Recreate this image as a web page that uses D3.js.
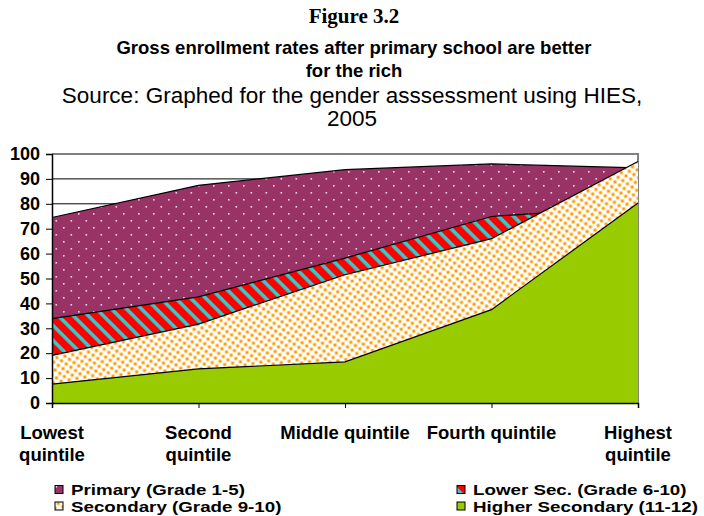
<!DOCTYPE html>
<html><head><meta charset="utf-8">
<script src="https://cdn.jsdelivr.net/npm/d3@7"></script>
<style>body{margin:0;background:#fff}svg{display:block}</style>
</head><body>
<script>
const categories = ["Lowest quintile","Second quintile","Middle quintile","Fourth quintile","Highest quintile"];
const categoryLines = [["Lowest","quintile"],["Second","quintile"],["Middle quintile"],["Fourth quintile"],["Highest","quintile"]];
const primary = [74.5, 87.4, 93.7, 96, 94.4];
const lowerSec = [33.9, 42.6, 58.2, 74.9, 79];
const secondary = [19.1, 31.7, 51.5, 66, 97];
const higherSec = [7.6, 13.7, 16.5, 37.5, 80.3];
const yTicks = [0,10,20,30,40,50,60,70,80,90,100];
const seriesNames = ["Primary (Grade 1-5)","Lower Sec. (Grade 6-10)","Secondary (Grade 9-10)","Higher Secondary (11-12)"];

const W=704,H=516;
const FONT="Liberation Sans, Arial, sans-serif";
const svg=d3.select("body").append("svg").attr("width",W).attr("height",H);
const defs=svg.append("defs");
let p=defs.append("pattern").attr("id","pPrim").attr("patternUnits","userSpaceOnUse").attr("width",15).attr("height",14);
p.append("rect").attr("width",15).attr("height",14).attr("fill","#993366");
p.append("rect").attr("x",3).attr("y",3).attr("width",1.6).attr("height",1.6).attr("fill","#f0d8e6");
p.append("rect").attr("x",10.5).attr("y",10).attr("width",1.6).attr("height",1.6).attr("fill","#f0d8e6");
p=defs.append("pattern").attr("id","pLow").attr("patternUnits","userSpaceOnUse").attr("width",10.6).attr("height",10.6).attr("patternTransform","rotate(-45)");
p.append("rect").attr("width",10.6).attr("height",10.6).attr("fill","#FF0000");
p.append("rect").attr("x",7).attr("width",3.6).attr("height",10.6).attr("fill","#33CCCC");
p=defs.append("pattern").attr("id","pSec").attr("patternUnits","userSpaceOnUse").attr("width",8).attr("height",8).attr("patternTransform","rotate(-10)");
p.append("rect").attr("width",8).attr("height",8).attr("fill","#fff");
p.append("rect").attr("x",0.5).attr("y",0.5).attr("width",3).attr("height",3).attr("fill","#FF9900");
p.append("rect").attr("x",4.5).attr("y",4.5).attr("width",3).attr("height",3).attr("fill","#FF9900");

const x=d3.scalePoint().domain(categories).range([52,638]);
const y=d3.scaleLinear().domain([0,100]).range([403,154]);

svg.append("text").attr("x",354).attr("y",23).attr("text-anchor","middle").attr("font-family","Liberation Serif, Times New Roman, serif").attr("font-weight","bold").attr("font-size",21).text("Figure 3.2");
const t2=svg.append("g").attr("font-family",FONT).attr("text-anchor","middle");
t2.append("text").attr("x",354).attr("y",54).attr("font-weight","bold").attr("font-size",18.5).text("Gross enrollment rates after primary school are better");
t2.append("text").attr("x",354).attr("y",77).attr("font-weight","bold").attr("font-size",18.5).text("for the rich");
t2.append("text").attr("x",352).attr("y",103).attr("font-size",22.5).text("Source: Graphed for the gender asssessment using HIES,");
t2.append("text").attr("x",352).attr("y",126).attr("font-size",22.5).text("2005");

svg.append("g").selectAll("line").data(yTicks.filter(d=>d>0&&d<100)).join("line")
  .attr("x1",52).attr("x2",638).attr("y1",d=>y(d)).attr("y2",d=>y(d)).attr("stroke","#000").attr("stroke-width",1);
svg.append("path").attr("d",`M52,${y(100)}H638V${y(0)}`).attr("fill","none").attr("stroke","#808080").attr("stroke-width",2);

const series=[{v:primary,f:"url(#pPrim)"},{v:lowerSec,f:"url(#pLow)"},{v:secondary,f:"url(#pSec)"},{v:higherSec,f:"#99CC00"}];
const area=d3.area().x((d,i)=>x(categories[i])).y0(y(0)).y1(d=>y(d));
const line=d3.line().x((d,i)=>x(categories[i])).y(d=>y(d));
series.forEach(s=>{
  svg.append("path").attr("d",area(s.v)).attr("fill",s.f);
  svg.append("path").attr("d",line(s.v)).attr("fill","none").attr("stroke","#000").attr("stroke-width",1.2);
});

const ya=svg.append("g").attr("transform","translate(52,0)").call(d3.axisLeft(y).tickValues(yTicks).tickSize(6).tickPadding(6));
ya.select(".domain").attr("stroke","#000").attr("stroke-width",1.5);
ya.selectAll("text").attr("font-family",FONT).attr("font-weight","bold").attr("font-size",18).attr("fill","#000");
const xa=svg.append("g").attr("transform",`translate(0,${y(0)})`).call(d3.axisBottom(x).tickSize(5).tickFormat(""));
xa.select(".domain").attr("stroke","#000").attr("stroke-width",1.5);
const xl=svg.append("g").attr("font-family",FONT).attr("font-weight","bold").attr("font-size",18.5).attr("text-anchor","middle");
categories.forEach((c,i)=>{
  categoryLines[i].forEach((ln,j)=>{
    xl.append("text").attr("x",x(c)).attr("y",439+j*22).text(ln);
  });
});

const leg=[{n:seriesNames[0],f:"url(#pPrim)",x:55,y:489.5},{n:seriesNames[2],f:"url(#pSec)",x:55,y:506},{n:seriesNames[1],f:"url(#pLow)",x:457,y:489.5},{n:seriesNames[3],f:"#99CC00",x:457,y:506}];
const lg=svg.append("g").attr("font-family",FONT).attr("font-weight","bold").attr("font-size",15);
leg.forEach(l=>{
  lg.append("rect").attr("x",l.x).attr("y",l.y-4).attr("width",8).attr("height",8).attr("fill",l.f).attr("stroke","#000").attr("stroke-width",1);
  lg.append("text").attr("transform",`translate(${l.x+16},${l.y+5.5}) scale(1.25,1)`).text(l.n);
});
</script>
</body></html>
